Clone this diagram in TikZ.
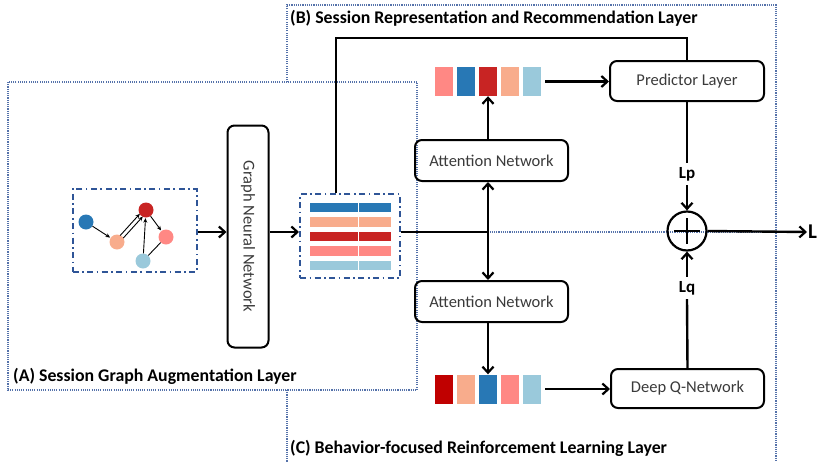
\documentclass[tikz,border=0pt]{standalone}
\usepackage{fontspec}
\setmainfont{Carlito}
\usetikzlibrary{arrows.meta,calc}
\definecolor{cblue}{HTML}{2878B5}
\definecolor{clight}{HTML}{9AC9DB}
\definecolor{cpeach}{HTML}{F8AC8C}
\definecolor{cred}{HTML}{C82423}
\definecolor{cpink}{HTML}{FF8884}
\definecolor{cdark}{HTML}{C00000}
\definecolor{dotblue}{HTML}{5572AA}
\definecolor{dashblue}{HTML}{2F5597}
\definecolor{txtgray}{HTML}{3A3A3A}
\tikzset{
  region/.style={draw=dotblue, line width=1.1pt, dash pattern=on 1.1pt off 1.1pt},
  dashbox/.style={draw=dashblue, line width=2pt, dash pattern=on 6pt off 3.5pt on 1.6pt off 3.5pt, inner sep=0pt},
  block/.style={draw, line width=2pt, rounded corners=7pt, inner sep=0pt, text=txtgray,
                font=\fontsize{16.5}{18}\selectfont},
  cell/.style={inner sep=0pt, minimum width=18pt, minimum height=29pt},
  bar/.style={inner sep=0pt, minimum height=9.5pt},
  conn/.style={line width=2.4pt},
  barb/.tip={Straight Barb[length=6pt,width=11pt,line width=2.2pt]},
  arr/.style={conn, -barb},
  gnode/.style={circle, inner sep=0pt, minimum size=15pt},
  gedge/.style={line width=0.9pt, -{Stealth[length=4.5pt,width=4pt]}, shorten >=0.5pt},
  layer/.style={font=\bfseries\fontsize{17.8}{19}\selectfont, anchor=west, inner sep=0pt},
  loss/.style={font=\bfseries\fontsize{17}{18}\selectfont, inner sep=4pt}
}
\begin{document}
\begin{tikzpicture}[x=1pt,y=-1pt]
\useasboundingbox (0,0) rectangle (817,461);

% layer regions
\draw[region] (8,82) rectangle (417,390);
\draw[region] (287,82) -- (287,5) -- (776,5) -- (776,465);
\draw[region] (287,390) -- (287,465);
\draw[region] (417,232) -- (776,232);

% layer titles
\node[layer] (tb) at (290,18) {(B) Session Representation and Recommendation Layer};
\node[layer] (ta) at (13,376) {(A) Session Graph Augmentation Layer};
\node[layer] (tc) at (290,448) {(C) Behavior-focused Reinforcement Learning Layer};

% session graph
\node[dashbox, minimum width=124pt, minimum height=83pt] (gbox) at (134.5,230.5) {};
\node[gnode, fill=cblue]  (n1) at (86,222) {};
\node[gnode, fill=cpeach] (n2) at (117,242) {};
\node[gnode, fill=cred]   (n3) at (146,210) {};
\node[gnode, fill=cpink]  (n4) at (166,237) {};
\node[gnode, fill=clight] (n5) at (143,261) {};
\draw[gedge] (n1) -- (n2);
\draw[gedge, shorten <=7pt, shorten >=7pt] ($(n2)!2pt!90:(n3)$) -- ($(n3)!2pt!-90:(n2)$);
\draw[gedge, shorten <=7pt, shorten >=7pt] ($(n2)!2pt!-90:(n3)$) -- ($(n3)!2pt!90:(n2)$);
\draw[gedge] (n5) -- (n3);
\draw[gedge] (n3) -- (n4);
\draw[line width=0.9pt] (n4) -- (n5);

% graph neural network
\node[block, rotate=-90, minimum width=222pt, minimum height=41pt] (gnn) at (248,236.5) {Graph Neural Network};

% session representation
\node[dashbox, minimum width=100pt, minimum height=84pt] (repbox) at (350,236) {};
\foreach \c [count=\i] in {cblue,cpeach,cred,cpink,clight}{
  \node[bar, fill=\c, minimum width=47.5pt] (ra\i) at (334,{207.5+14.5*(\i-1)}) {};
  \node[bar, fill=\c, minimum width=32.5pt] (rb\i) at (374.75,{207.5+14.5*(\i-1)}) {};
}

\coordinate (gy) at (0,232);
\draw[arr] (gbox.east |- gy) -- (gnn.south |- gy);
\draw[arr] (gnn.north |- gy) -- (repbox.west |- gy);

% item vectors
\foreach \c [count=\i] in {cpink,cblue,cred,cpeach,clight}{
  \node[cell, fill=\c] (t\i) at ({444+22*(\i-1)},81.5) {};
}
\foreach \c [count=\i] in {cdark,cpeach,cblue,cpink,clight}{
  \node[cell, fill=\c] (b\i) at ({444+22*(\i-1)},389) {};
}

% network blocks
\node[block, minimum width=154pt, minimum height=40pt] (pred) at (687,81) {Predictor Layer};
\node[block, minimum width=153pt, minimum height=41pt] (attT) at (491.5,160.5) {Attention Network};
\node[block, minimum width=153pt, minimum height=41pt] (attB) at (491.5,301.5) {Attention Network};
\node[block, minimum width=153pt, minimum height=39pt] (dqn) at (687.5,388.5) {Deep Q-Network};

% representation to attention networks
\coordinate (jn) at (488,232);
\draw[conn] (repbox.east |- jn) -- (jn);
\draw[conn, barb-barb] (attT.south -| jn) -- (attB.north -| jn);
\draw[arr] (attT.north -| t3.south) -- (t3.south);
\draw[arr] (attB.south -| b3.north) -- (b3.north);
\draw[arr, shorten <=4pt] (t5.east) -- (pred.west |- t5.east);
\draw[arr, shorten <=4pt] (b5.east) -- (dqn.west |- b5.east);

% skip connection to predictor
\coordinate (fb1) at (336,38);
\draw[conn] (repbox.north -| fb1) -- (fb1) -- (fb1 -| pred.north) -- (pred.north);

% losses
\node[draw, circle, line width=2.2pt, minimum size=39pt, inner sep=0pt] (sum) at (687,231) {};
\draw[line width=2.2pt] ($(sum.center)+(-13,0)$) -- ($(sum.center)+(13,0)$);
\draw[line width=2.2pt] ($(sum.center)+(0,-13)$) -- ($(sum.center)+(0,13)$);
\node[loss] (lp) at (687,174) {Lp};
\node[loss] (lq) at (687,288) {Lq};
\draw[conn] (pred.south) -- (lp.north);
\draw[arr] (lp.south) -- (sum.north);
\draw[conn] (dqn.north) -- (lq.south);
\draw[arr] (lq.north) -- (sum.south);
\node[font=\bfseries\fontsize{21}{22}\selectfont, anchor=west, inner sep=1pt] (lout) at (807,232) {L};
\draw[arr] (sum.east) -- (lout.west);
\end{tikzpicture}
\end{document}
